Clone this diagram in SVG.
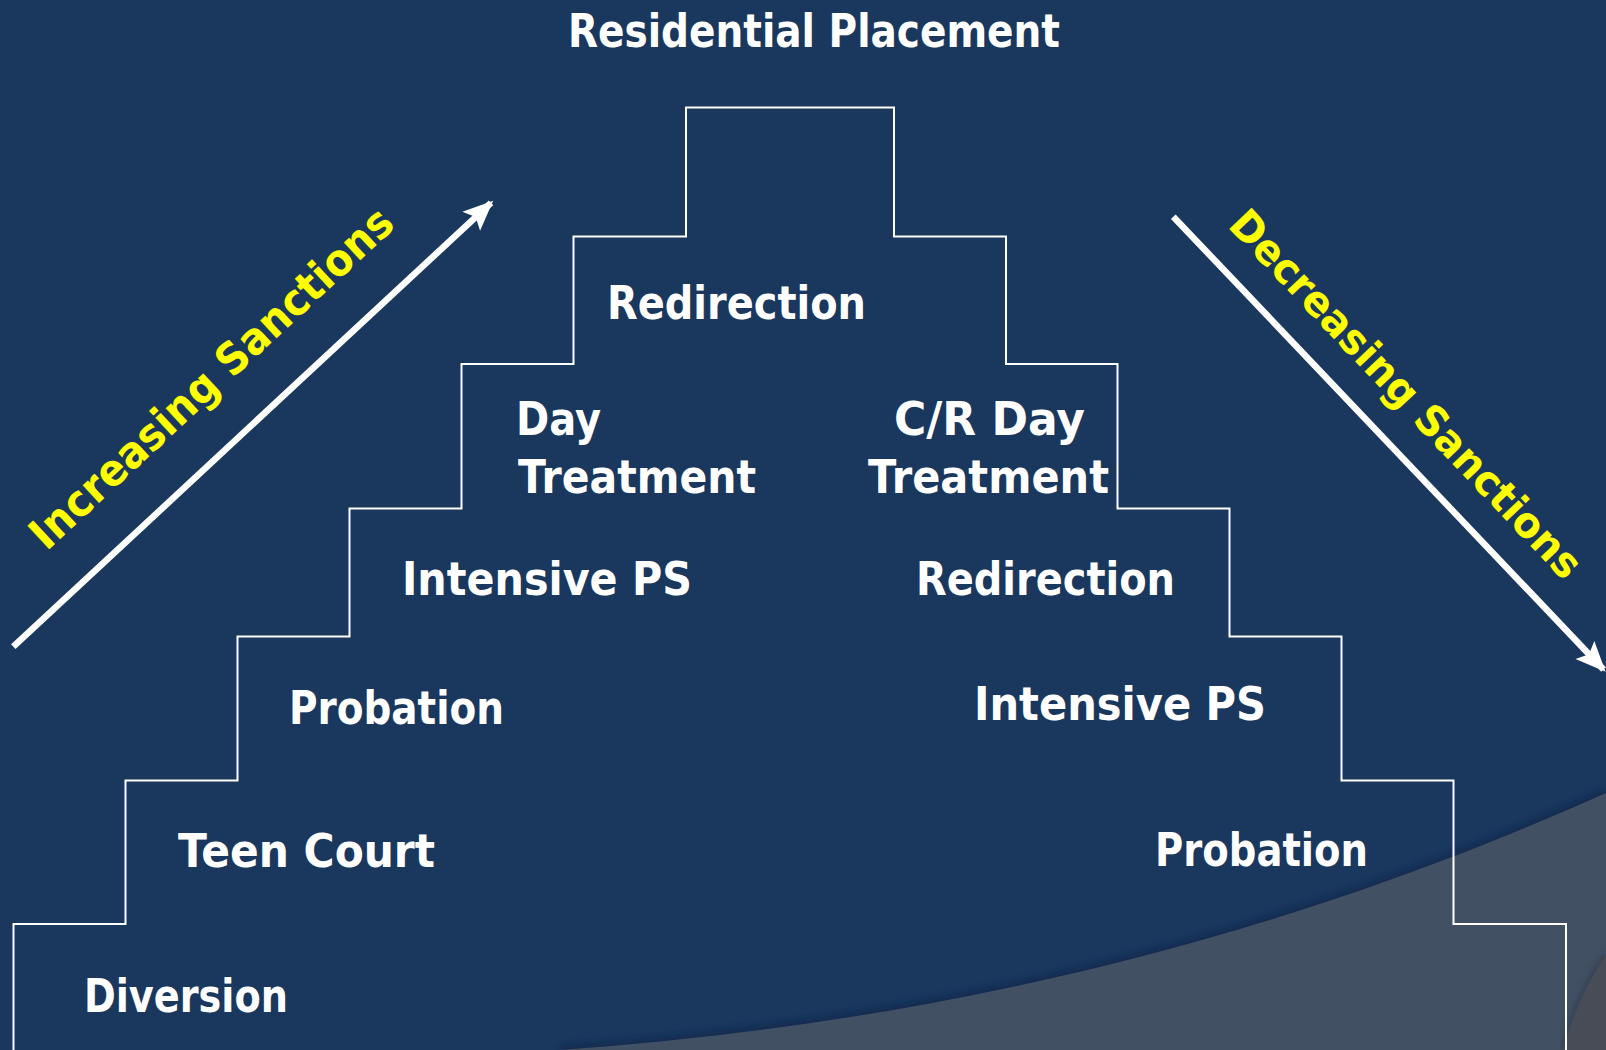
<svg xmlns="http://www.w3.org/2000/svg" width="1606" height="1050" viewBox="0 0 1606 1050">
  <style>
    .lbl { font-family: "DejaVu Sans", "Liberation Sans", sans-serif; font-weight: bold; font-size: 46px; fill: #ffffff; }
    .side { font-family: "DejaVu Sans", "Liberation Sans", sans-serif; font-weight: bold; font-size: 44px; fill: #ffff00; }
    .stairs { fill: none; stroke: #ffffff; stroke-width: 2; }
    .arrow { fill: none; stroke: #ffffff; stroke-width: 6.5; }
  </style>
  <defs>
    <marker id="head" markerUnits="userSpaceOnUse" markerWidth="36" markerHeight="30" viewBox="-30 -15 34 30" refX="0" refY="0" orient="auto">
      <path d="M3,0 L-27,-13 L-21,0 L-27,13 Z" fill="#ffffff"/>
    </marker>
    <filter id="blur" x="-5%" y="-20%" width="110%" height="140%">
      <feGaussianBlur stdDeviation="3"/>
    </filter>
  </defs>

  <g id="background">
    <rect x="0" y="0" width="1606" height="1050" fill="#1a375e"/>
    <path d="M560,1050 C910,1025 1256,950 1606,793" fill="none" stroke="#0c2445" stroke-width="8" opacity="0.6" filter="url(#blur)"/>
    <path d="M560,1050 C910,1025 1256,950 1606,793 L1606,1050 Z" fill="#425064"/>
    <path d="M1606,955 Q1578,995 1563,1050" fill="none" stroke="#2a3444" stroke-width="6" opacity="0.6" filter="url(#blur)"/>
    <path d="M1606,955 Q1578,995 1563,1050 L1606,1050 Z" fill="#474c57"/>
  </g>

  <g id="staircase">
    <path class="stairs" d="M13.5,1050 V924 H125.5 V780.5 H237.5 V636.5 H349.5 V508.5 H461.5 V364 H573.5 V236.5 H686 V107.5 H894 V236.5 H1006 V364 H1117.5 V508.5 H1229.5 V636.5 H1341.5 V780.5 H1453.5 V924 H1566 V1050"/>
  </g>

  <g id="connectors">
    <line class="arrow" x1="13.3" y1="646.7" x2="491" y2="202.8" marker-end="url(#head)"/>
    <line class="arrow" x1="1173.3" y1="216.7" x2="1603.5" y2="669.5" marker-end="url(#head)"/>
  </g>

  <g id="node-residential-placement"><text class="lbl" x="568" y="46.5" textLength="492" lengthAdjust="spacingAndGlyphs">Residential Placement</text></g>
  <g id="node-redirection-top"><text class="lbl" x="607" y="318.5" textLength="259" lengthAdjust="spacingAndGlyphs">Redirection</text></g>
  <g id="node-day-treatment">
    <text class="lbl" x="516" y="435" textLength="85" lengthAdjust="spacingAndGlyphs">Day</text>
    <text class="lbl" x="518" y="493" textLength="238" lengthAdjust="spacingAndGlyphs">Treatment</text>
  </g>
  <g id="node-cr-day-treatment">
    <text class="lbl" x="894" y="435" textLength="191" lengthAdjust="spacingAndGlyphs">C/R Day</text>
    <text class="lbl" x="868" y="493" textLength="241" lengthAdjust="spacingAndGlyphs">Treatment</text>
  </g>
  <g id="node-intensive-ps-left"><text class="lbl" x="402" y="595" textLength="290" lengthAdjust="spacingAndGlyphs">Intensive PS</text></g>
  <g id="node-redirection-right"><text class="lbl" x="916" y="595" textLength="259" lengthAdjust="spacingAndGlyphs">Redirection</text></g>
  <g id="node-probation-left"><text class="lbl" x="289" y="724" textLength="215" lengthAdjust="spacingAndGlyphs">Probation</text></g>
  <g id="node-intensive-ps-right"><text class="lbl" x="974" y="720" textLength="292" lengthAdjust="spacingAndGlyphs">Intensive PS</text></g>
  <g id="node-teen-court"><text class="lbl" x="178" y="866.5" textLength="257" lengthAdjust="spacingAndGlyphs">Teen Court</text></g>
  <g id="node-probation-right"><text class="lbl" x="1155" y="865.5" textLength="213" lengthAdjust="spacingAndGlyphs">Probation</text></g>
  <g id="node-diversion"><text class="lbl" x="84" y="1011.5" textLength="204" lengthAdjust="spacingAndGlyphs">Diversion</text></g>

  <g id="label-increasing">
    <text class="side" text-anchor="middle" transform="translate(221.6,389) rotate(-42.9)" textLength="478" lengthAdjust="spacingAndGlyphs">Increasing Sanctions</text>
  </g>
  <g id="label-decreasing">
    <text class="side" text-anchor="middle" style="font-size:42px" transform="translate(1395.5,404) rotate(46.5)" textLength="490" lengthAdjust="spacingAndGlyphs">Decreasing Sanctions</text>
  </g>
</svg>
